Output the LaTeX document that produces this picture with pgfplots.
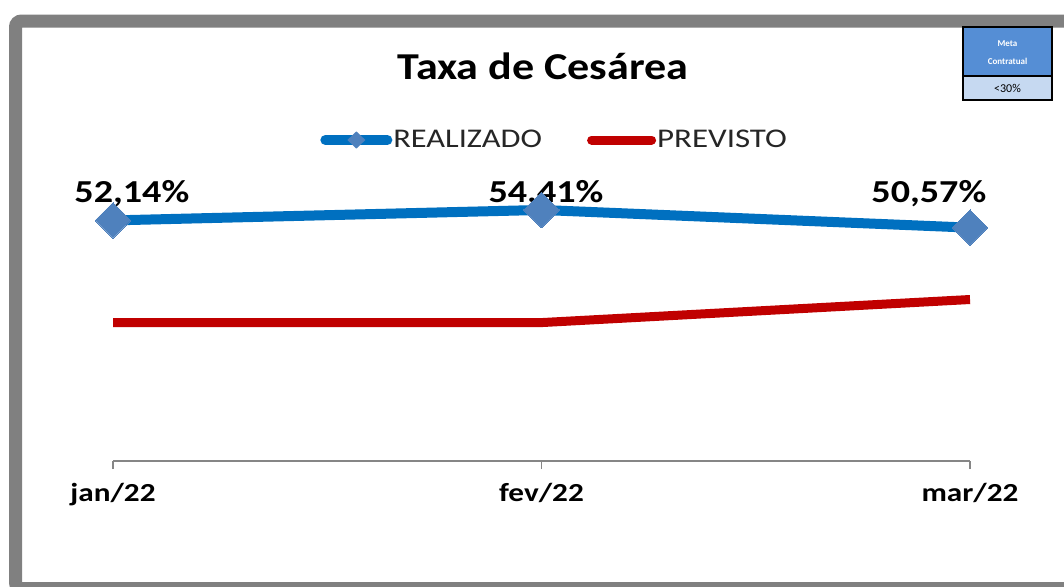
\documentclass[border=0pt]{standalone}
\usepackage{fontspec}
\setmainfont{Carlito}
\usepackage{graphicx}
\usepackage{pgfplots}
\pgfplotsset{compat=1.18}
\definecolor{realblue}{HTML}{0070C0}
\definecolor{mkblue}{HTML}{4F81BD}
\definecolor{prevred}{HTML}{C00000}
\definecolor{framegray}{HTML}{808080}
\definecolor{axgray}{HTML}{868686}
\definecolor{metablue}{HTML}{558ED5}
\definecolor{metalight}{HTML}{C6D9F1}
\newcommand{\sx}[2][1.15]{\scalebox{#1}[1]{#2}}
\begin{document}
\begin{tikzpicture}
\clip (0,0) rectangle (532pt,293pt);
\fill[white] (0,0) rectangle (532pt,293pt);
\begin{axis}[
  at={(56.5pt,62.5pt)}, anchor=south west,
  scale only axis, width=428.5pt, height=161.5pt,
  xmin=0, xmax=2, ymin=0, ymax=70,
  axis x line=bottom, axis y line=none,
  axis line style={-, axgray, line width=0.75pt},
  xtick={0,1,2}, xticklabels={\sx[1.2]{jan/22},\sx[1.2]{fev/22},\sx[1.2]{mar/22}},
  ytick=\empty,
  tick align=outside, major tick length=4pt,
  tick style={axgray, line width=0.75pt},
  xticklabel style={anchor=base, yshift=-16pt, font=\bfseries\fontsize{13}{13}\selectfont, text=black},
  clip=false,
  reverse legend,
  legend style={draw=none, fill=none, inner sep=0pt, at={(0.2415,0.9938)}, anchor=west,
    legend columns=2, font=\fontsize{13.5}{13.5}\selectfont, text=black!85,
    /tikz/every even column/.append style={column sep=22pt},
    nodes={inner xsep=0.5pt}},
]
\addplot[prevred, line width=4.5pt,
  legend image code/.code={\draw[prevred, line width=4.5pt, line cap=round] (2.5pt,0pt)--(32.5pt,0pt);}]
  coordinates {(0,30) (1,30) (2,35)};
\addlegendentry{\sx[1.22]{PREVISTO}}
\addplot[realblue, line width=5pt, line join=round, mark=square*,
  mark size=6.3pt, mark options={rotate=45, fill=mkblue, draw=mkblue, line width=0pt},
  legend image code/.code={\draw[realblue, line width=5pt, line cap=round] (2.5pt,0pt)--(33.5pt,0pt);
    \path[fill=mkblue, draw=none] (18pt,4.3pt)--(22.5pt,0pt)--(18pt,-4.3pt)--(13.5pt,0pt)--cycle;}]
  coordinates {(0,52.14) (1,54.41) (2,50.57)};
\addlegendentry{\sx[1.2]{REALIZADO}}
\node[anchor=base, font=\bfseries\fontsize{16}{16}\selectfont] at (axis cs:0.044,56.13) {\sx[1.19]{52,14\%}};
\node[anchor=base, font=\bfseries\fontsize{16}{16}\selectfont] at (axis cs:1.0105,56.13) {\sx[1.19]{54,41\%}};
\node[anchor=base, font=\bfseries\fontsize{16}{16}\selectfont] at (axis cs:1.904,56.13) {\sx[1.19]{50,57\%}};
\end{axis}
\node[anchor=base, font=\bfseries\fontsize{19}{19}\selectfont] at (271.5pt,253.5pt) {\sx[1.16]{Taxa de Cesárea}};
\draw[framegray, line width=6.5pt, rounded corners=3pt] (7.75pt,-1.25pt) rectangle (545pt,282.5pt);
\fill[metablue] (481.5pt,255pt) rectangle (526pt,279.5pt);
\fill[metalight] (481.5pt,243pt) rectangle (526pt,255pt);
\draw[black, line width=0.75pt] (481.5pt,243pt) rectangle (526pt,279.5pt);
\draw[black, line width=0.75pt] (481.5pt,255pt) -- (526pt,255pt);
\node[text=white, font=\bfseries\fontsize{4.5}{5}\selectfont] at (503.75pt,271pt) {Meta};
\node[text=white, font=\bfseries\fontsize{4.5}{5}\selectfont] at (503.75pt,262.5pt) {Contratual};
\node[text=black, font=\fontsize{6}{6}\selectfont] at (503.75pt,249pt) {<30\%};
\end{tikzpicture}
\end{document}
